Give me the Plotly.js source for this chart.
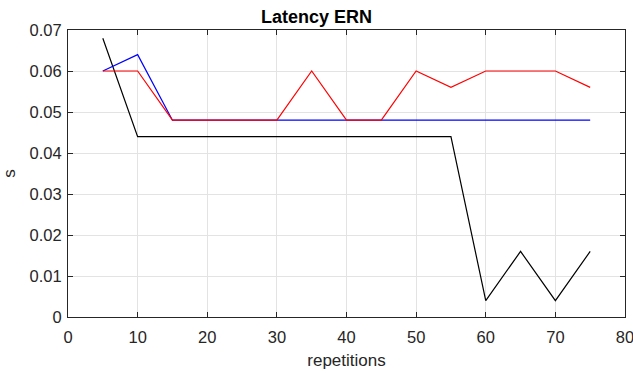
<!DOCTYPE html>
<html>
<head>
<meta charset="utf-8">
<script src="https://cdn.plot.ly/plotly-3.0.1.min.js"></script>
<style>html,body{margin:0;padding:0;background:#fff}#chart{width:633px;height:373px}</style>
</head>
<body>
<div id="chart"></div>
<script>
// Latency of the ERN per number of repetitions
const repetitions = [5, 10, 15, 20, 25, 30, 35, 40, 45, 50, 55, 60, 65, 70, 75];
const latencyBlack = [0.068, 0.044, 0.044, 0.044, 0.044, 0.044, 0.044, 0.044, 0.044, 0.044, 0.044, 0.004, 0.016, 0.004, 0.016];
const latencyBlue  = [0.060, 0.064, 0.048, 0.048, 0.048, 0.048, 0.048, 0.048, 0.048, 0.048, 0.048, 0.048, 0.048, 0.048, 0.048];
const latencyRed   = [0.060, 0.060, 0.048, 0.048, 0.048, 0.048, 0.060, 0.048, 0.048, 0.060, 0.056, 0.060, 0.060, 0.060, 0.056];

const FONT = 'Liberation Sans, Arial, sans-serif';

const line = (y, color) => ({
  x: repetitions, y: y, type: 'scatter', mode: 'lines',
  line: {color: color, width: 1.2}, hoverinfo: 'skip'
});

const axisBase = {
  showline: true, linecolor: '#262626', linewidth: 1, mirror: 'ticks',
  ticks: 'inside', ticklen: 5, tickcolor: '#262626', tickwidth: 1,
  showgrid: true, gridcolor: '#e3e3e3', gridwidth: 1, zeroline: false,
  ticklabeloverflow: 'allow',
  tickfont: {family: FONT, size: 16.5, color: '#262626'}
};

const layout = {
  width: 633, height: 373,
  margin: {l: 68, r: 8, t: 30, b: 56},
  paper_bgcolor: '#fff', plot_bgcolor: '#fff',
  showlegend: false,
  title: {text: '<b>Latency ERN</b>', x: 0.5, xanchor: 'center',
          y: 1 - 16.5 / 373, yanchor: 'middle',
          font: {family: FONT, size: 18, color: '#000'}},
  xaxis: Object.assign({}, axisBase, {
    range: [0, 80], tick0: 0, dtick: 10, ticklabelstandoff: 5,
    title: {text: 'repetitions', standoff: 9,
            font: {family: FONT, size: 17, color: '#262626'}}
  }),
  yaxis: Object.assign({}, axisBase, {
    range: [0, 0.07], tick0: 0, dtick: 0.01, ticklabelstandoff: 2,
    title: {text: 's', standoff: 10,
            font: {family: FONT, size: 17, color: '#262626'}}
  })
};

Plotly.newPlot('chart', [
  line(latencyBlack, '#000000'),
  line(latencyBlue, '#0000ff'),
  line(latencyRed, '#ff0000')
], layout, {displayModeBar: false, staticPlot: true});
</script>
</body>
</html>
